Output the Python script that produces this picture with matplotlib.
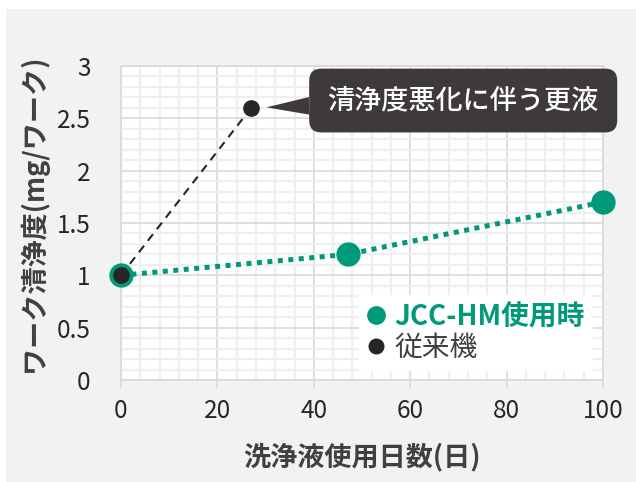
import matplotlib.pyplot as plt
from matplotlib.lines import Line2D
from matplotlib.patches import Rectangle
from matplotlib.ticker import MultipleLocator

plt.rcParams['font.family'] = ['Noto Sans CJK JP', 'DejaVu Sans']

# cleanliness vs. days of cleaning-fluid use
days_hm = [0, 47, 100]
clean_hm = [1.0, 1.2, 1.7]
days_old = [0, 27]
clean_old = [1.0, 2.6]

label_hm = "JCC-HM使用時"
label_old = "従来機"
note = "清浄度悪化に伴う更液"

green = '#00997a'
dark = '#262626'
text_col = '#404040'

fig = plt.figure(figsize=(6.36, 4.82), dpi=100)
fig.patch.set_facecolor('white')
fig.patches.append(Rectangle((6 / 636, 0), 1, 473 / 482, transform=fig.transFigure,
                             facecolor='#f2f2f2', edgecolor='none', zorder=-10))

ax = fig.add_axes([121 / 636, 102 / 482, 482 / 636, 314 / 482])
ax.set_facecolor('white')

# green dotted series with large markers
ax.plot(days_hm, clean_hm, color=green, lw=3.6, linestyle=(0, (1, 1.1)),
        dash_capstyle='butt', marker='o', markersize=16.5, zorder=3, clip_on=False)
# conventional machine: thin dashed line
ax.plot(days_old, clean_old, color=dark, lw=1.5, linestyle=(0, (4, 3)),
        marker='o', markersize=11, zorder=4, clip_on=False)

ax.set_xlim(0, 100)
ax.set_ylim(0, 3)
ax.xaxis.set_major_locator(MultipleLocator(20))
ax.xaxis.set_minor_locator(MultipleLocator(4))
ax.yaxis.set_major_locator(MultipleLocator(0.5))
ax.yaxis.set_minor_locator(MultipleLocator(0.1))
ax.set_yticks([0, 0.5, 1, 1.5, 2, 2.5, 3])
ax.set_yticklabels(['0', '0.5', '1', '1.5', '2', '2.5', '3'])

ax.grid(which='minor', color='#efefef', lw=1.6, zorder=0)
ax.grid(which='major', color='#d9d9d9', lw=1.2, zorder=1)
ax.set_axisbelow(True)
for s in ax.spines.values():
    s.set_color('#d9d9d9')
    s.set_linewidth(1.2)

ax.tick_params(axis='x', which='major', length=6, width=1.2, color='#d9d9d9',
               labelsize=17.5, labelcolor=dark, pad=7)
ax.tick_params(axis='y', which='major', length=0, labelsize=17.5, labelcolor=dark, pad=22)
ax.tick_params(which='minor', length=0)

ax.set_xlabel("洗浄液使用日数(日)", fontsize=19.5, fontweight='bold', color=text_col, labelpad=13)
ax.set_ylabel("ワーク清浄度(mg/ワーク)", fontsize=19.5, fontweight='bold', color=text_col)
ax.yaxis.set_label_coords(-0.152, 0.53)

# callout for the fluid change
ax.annotate(note, xy=(days_old[1], clean_old[1]), xytext=(71.0, 2.67),
            textcoords='data', ha='center', va='center', fontsize=19.5,
            color='white', fontweight='medium', zorder=6, annotation_clip=False,
            bbox=dict(boxstyle='round,pad=0.68,rounding_size=0.45', fc='#3d3a39', ec='none'),
            arrowprops=dict(arrowstyle='wedge,tail_width=0.65', fc='#3d3a39', ec='none',
                            shrinkA=0, shrinkB=11))

handles = [Line2D([], [], color=green, marker='o', linestyle='none', markersize=12.5),
           Line2D([], [], color=dark, marker='o', linestyle='none', markersize=10.5)]
leg = ax.legend(handles, [label_hm, label_old], loc='lower right',
                bbox_to_anchor=(0.979, 0.029), fontsize=20, frameon=True,
                fancybox=False, framealpha=1, edgecolor='none', facecolor='white',
                handlelength=0.6, handletextpad=0.35, borderpad=0.3, labelspacing=0.05,
                borderaxespad=0)
leg.set_zorder(5)
t_hm, t_old = leg.get_texts()
t_hm.set_color(green)
t_hm.set_fontweight('bold')
t_old.set_color(text_col)

fig.savefig('out.png', dpi=100)
